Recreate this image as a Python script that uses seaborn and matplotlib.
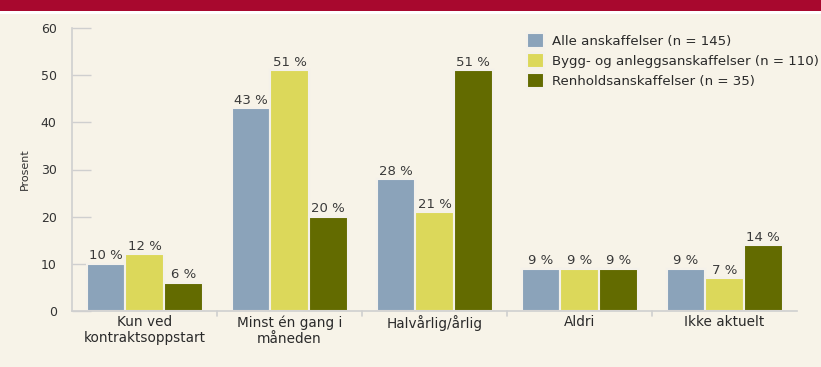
import matplotlib
matplotlib.use("Agg")
import matplotlib.pyplot as plt
import seaborn as sns
import pandas as pd
from matplotlib.patches import Rectangle

categories = ["Kun ved\nkontraktsoppstart", "Minst én gang i\nmåneden", "Halvårlig/årlig", "Aldri", "Ikke aktuelt"]
series = ["Alle anskaffelser (n = 145)", "Bygg- og anleggsanskaffelser (n = 110)", "Renholdsanskaffelser (n = 35)"]
alle = [10, 43, 28, 9, 9]
bygg = [12, 51, 21, 9, 7]
renhold = [6, 20, 51, 9, 14]
colors = ["#8ba3ba", "#dcd85a", "#636b00"]

rows = []
for name, vals in zip(series, [alle, bygg, renhold]):
    for c, v in zip(categories, vals):
        rows.append({"kategori": c, "serie": name, "prosent": v})
df = pd.DataFrame(rows)

sns.set_theme(style="white")
plt.rcParams["font.family"] = ["DejaVu Sans"]
bg = "#f7f3e8"
fig = plt.figure(figsize=(8.21, 3.67), dpi=100, facecolor=bg)

# top banner
fig.patches.append(Rectangle((0, 1 - 11 / 367), 1, 11 / 367, transform=fig.transFigure,
                             facecolor="#a8082e", edgecolor="none", zorder=0))
fig.patches.append(Rectangle((0, 1 - 14 / 367), 1, 3 / 367, transform=fig.transFigure,
                             facecolor="white", edgecolor="none", zorder=0))

ax = fig.add_axes([72 / 821, 56 / 367, 725 / 821, 283 / 367])
ax.set_facecolor(bg)
sns.barplot(data=df, x="kategori", y="prosent", hue="serie", palette=colors,
            saturation=1, width=0.8, edgecolor="#f4f1ea", linewidth=1.5, ax=ax, legend=True)

for cont in ax.containers:
    ax.bar_label(cont, labels=[f"{int(v)} %" for v in cont.datavalues],
                 padding=1, fontsize=9.5, color="#3a3a3a")

ax.set_ylim(0, 60)
ax.set_xlim(-0.5, 4.5)
ax.set_yticks(range(0, 61, 10))
ax.set_yticklabels([str(t) for t in range(0, 61, 10)], fontsize=9, color="#333333")
ax.tick_params(axis="y", left=True, direction="in", length=14, width=1, color="#cfcfcf", pad=11)
ax.set_xticks(range(5))
ax.set_xticklabels(categories, fontsize=9.8, color="#2a2a2a", linespacing=1.2)
ax.tick_params(axis="x", bottom=False, length=0, pad=3)
for xb in [0.5, 1.5, 2.5, 3.5]:
    ax.plot([xb, xb], [0, -0.018], transform=ax.get_xaxis_transform(),
            color="#cfcfcf", lw=1.2, clip_on=False)
ax.set_xlabel("")
ax.set_ylabel("Prosent", fontsize=8, color="#333333", labelpad=8)

for s in ["top", "right"]:
    ax.spines[s].set_visible(False)
for s in ["left", "bottom"]:
    ax.spines[s].set_color("#cfcfcf")
    ax.spines[s].set_linewidth(1.2)

leg = ax.legend(loc="upper left", bbox_to_anchor=(0.62, 1.0), frameon=False,
                fontsize=9.6, handlelength=1.3, handleheight=1.3, handletextpad=0.6,
                labelspacing=0.4, borderaxespad=0)
for t in leg.get_texts():
    t.set_color("#2a2a2a")

fig.savefig("out.png", dpi=100, facecolor=bg)
